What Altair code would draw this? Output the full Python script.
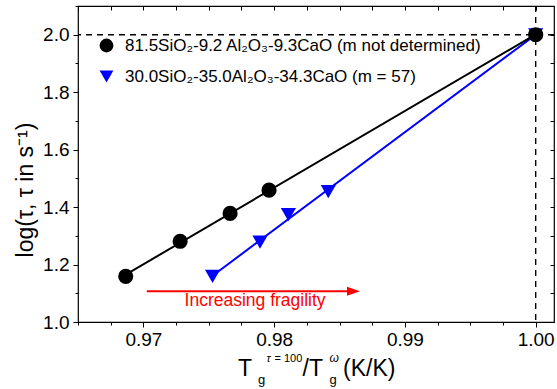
import altair as alt
import pandas as pd

FONT = "Liberation Sans, Arial, sans-serif"

# Composition series (legend labels), colours and marker shapes
series_names = [
    "81.5SiO₂-9.2 Al₂O₃-9.3CaO (m not determined)",
    "30.0SiO₂-35.0Al₂O₃-34.3CaO (m = 57)",
]
series_colors = ["#000000", "#0000ff"]
series_shapes = ["circle", "triangle-down"]

# Tg(tau=100)/Tg(omega) and log(tau) for each glass
x_black = [0.96865, 0.97281, 0.97663, 0.97961, 1.0]
y_black = [1.159, 1.281, 1.378, 1.459, 2.0]
x_blue = [0.97529, 0.97892, 0.98109, 0.98414, 1.0]
y_blue = [1.159, 1.278, 1.374, 1.454, 2.0]

# Axis ticks (majors labelled, minors unlabelled)
x_ticks = [0.965, 0.9675, 0.97, 0.9725, 0.975, 0.9775, 0.98, 0.9825,
           0.985, 0.9875, 0.99, 0.9925, 0.995, 0.9975, 1.0]
y_ticks = [1.0, 1.1, 1.2, 1.3, 1.4, 1.5, 1.6, 1.7, 1.8, 1.9, 2.0, 2.1]

# Reference lines and the "increasing fragility" arrow
ref_y = 2.0
ref_x = 1.0
arrow_x = [0.97026, 0.98607]
arrow_y = 1.107
arrow_text = "Increasing fragility"
arrow_text_x = 0.97854
arrow_text_y = 1.055

# blue rows first so the black circles sit on top
df = pd.concat([
    pd.DataFrame({"x": x_blue, "y": y_blue, "series": series_names[1]}),
    pd.DataFrame({"x": x_black, "y": y_black, "series": series_names[0]}),
], ignore_index=True)

xs = alt.Scale(domain=[0.965, 1.0014], nice=False, zero=False)
ys = alt.Scale(domain=[1.0, 2.1], nice=False, zero=False)

x_major = "abs(datum.value*100 - round(datum.value*100)) < 0.001"
y_major = "abs(datum.value*5 - round(datum.value*5)) < 0.001"

x_axis = alt.Axis(
    values=x_ticks, orient="bottom", title=None, domain=False,
    labelExpr=f"{x_major} ? format(datum.value, '.2f') : ''",
    tickSize={"condition": {"test": x_major, "value": 5}, "value": 3},
    labelPadding=3, labelFlush=False, labelOverlap=False,
)
y_axis = alt.Axis(
    values=y_ticks, orient="left", title=None, domain=False,
    labelExpr=f"{y_major} ? format(datum.value, '.1f') : ''",
    tickSize={"condition": {"test": y_major, "value": 5}, "value": 3},
    labelPadding=4, labelFlush=False, labelOverlap=False,
)
x_top = alt.Axis(values=x_ticks, orient="top", title=None, domain=False,
                 labels=False, tickSize=4, offset=-4)
y_right = alt.Axis(values=y_ticks, orient="right", title=None, domain=False,
                   labels=False, tickSize=4, offset=-4)


def fit_line(name, col, x_axis_def=None, y_axis_def=None):
    """Linear fit through one series, drawn across its x extent."""
    return alt.Chart(df).transform_filter(
        alt.datum.series == name
    ).transform_regression("x", "y").mark_line(color=col, strokeWidth=2).encode(
        x=alt.X("x:Q", scale=xs, axis=x_axis_def),
        y=alt.Y("y:Q", scale=ys, axis=y_axis_def),
    )


blue_fit = fit_line(series_names[1], series_colors[1], x_axis, y_axis)
black_fit = fit_line(series_names[0], series_colors[0])

points = alt.Chart(df).mark_point(filled=True, opacity=1, size=230).encode(
    x=alt.X("x:Q", scale=xs, axis=None),
    y=alt.Y("y:Q", scale=ys, axis=None),
    color=alt.Color("series:N", scale=alt.Scale(domain=series_names, range=series_colors),
                    title=None),
    shape=alt.Shape("series:N", scale=alt.Scale(domain=series_names, range=series_shapes),
                    title=None),
)

mirror = alt.Chart(df).mark_point(opacity=0).encode(
    x=alt.X("x:Q", scale=xs, axis=x_top),
    y=alt.Y("y:Q", scale=ys, axis=y_right),
)

hline = alt.Chart(pd.DataFrame({"v": [ref_y]})).mark_rule(
    color="black", strokeWidth=1.4, strokeDash=[6, 5]
).encode(y=alt.Y("v:Q", scale=ys, axis=None))

vline = alt.Chart(pd.DataFrame({"v": [ref_x]})).mark_rule(
    color="black", strokeWidth=1.4, strokeDash=[6, 5]
).encode(x=alt.X("v:Q", scale=xs, axis=None))

arrow_df = pd.DataFrame({"x": arrow_x, "y": [arrow_y, arrow_y]})
arrow_line = alt.Chart(arrow_df).mark_line(color="#ff0000", strokeWidth=2).encode(
    x=alt.X("x:Q", scale=xs, axis=None),
    y=alt.Y("y:Q", scale=ys, axis=None),
)
arrow_head = alt.Chart(pd.DataFrame({"x": [arrow_x[1]], "y": [arrow_y]})).mark_point(
    shape="M-1,-0.7L1,0L-1,0.7Z", filled=True, color="#ff0000", opacity=1, size=169
).encode(
    x=alt.X("x:Q", scale=xs, axis=None),
    y=alt.Y("y:Q", scale=ys, axis=None),
)
arrow_label = alt.Chart(pd.DataFrame({"x": [arrow_text_x], "y": [arrow_text_y], "t": [arrow_text]})).mark_text(
    color="#ff0000", font=FONT, fontSize=17.5, align="center", baseline="alphabetic"
).encode(
    x=alt.X("x:Q", scale=xs, axis=None),
    y=alt.Y("y:Q", scale=ys, axis=None),
    text="t:N",
)

# y-axis title
y_title = alt.Chart(pd.DataFrame({"t": ["log(τ, τ in s⁻¹)"]})).mark_text(
    font=FONT, fontSize=23, angle=270, align="center", baseline="alphabetic", color="black"
).encode(x=alt.value(-45), y=alt.value(184), text="t:N")

# x-axis title built from pieces: T_g^(tau = 100) / T_g^(omega) (K/K)
title_pieces = pd.DataFrame({
    "t": ["T", "g", "τ", "= 100", "/T", "g", "ω", "(K/K)"],
    "px": [160, 180, 188.5, 196.5, 224.5, 251.5, 251.5, 265],
    "py": [369.5, 378, 356, 356, 369.5, 378, 356, 369.5],
    "fs": [23, 13, 11, 11, 23, 13, 12, 23],
    "it": ["normal", "normal", "italic", "normal", "normal", "normal", "italic", "normal"],
})
x_title_layers = []
for _, r in title_pieces.iterrows():
    x_title_layers.append(
        alt.Chart(pd.DataFrame({"t": [r["t"]]})).mark_text(
            font=FONT, fontSize=float(r["fs"]), fontStyle=r["it"], align="left",
            baseline="alphabetic", color="black"
        ).encode(x=alt.value(float(r["px"])), y=alt.value(float(r["py"])), text="t:N")
    )

chart = alt.layer(
    blue_fit, black_fit, mirror, hline, vline, arrow_line, arrow_head, arrow_label, points,
    y_title, *x_title_layers,
).resolve_axis(
    x="independent", y="independent"
).properties(
    width=476, height=316, autosize="none",
    padding={"left": 78, "top": 6, "right": 3, "bottom": 67},
).configure_view(
    stroke="black", strokeWidth=1.2
).configure_axis(
    grid=False, tickColor="black", tickWidth=1, labelColor="black",
    labelFont=FONT, labelFontSize=19,
).configure_legend(
    orient="none", legendX=20, legendY=31, direction="vertical",
    labelFont=FONT, labelFontSize=17, labelColor="black", labelOffset=10,
    symbolSize=190, symbolStrokeWidth=0, rowPadding=13, padding=0,
    labelLimit=500,
)

chart.save("out.html", embed_options={"renderer": "svg", "actions": False})
